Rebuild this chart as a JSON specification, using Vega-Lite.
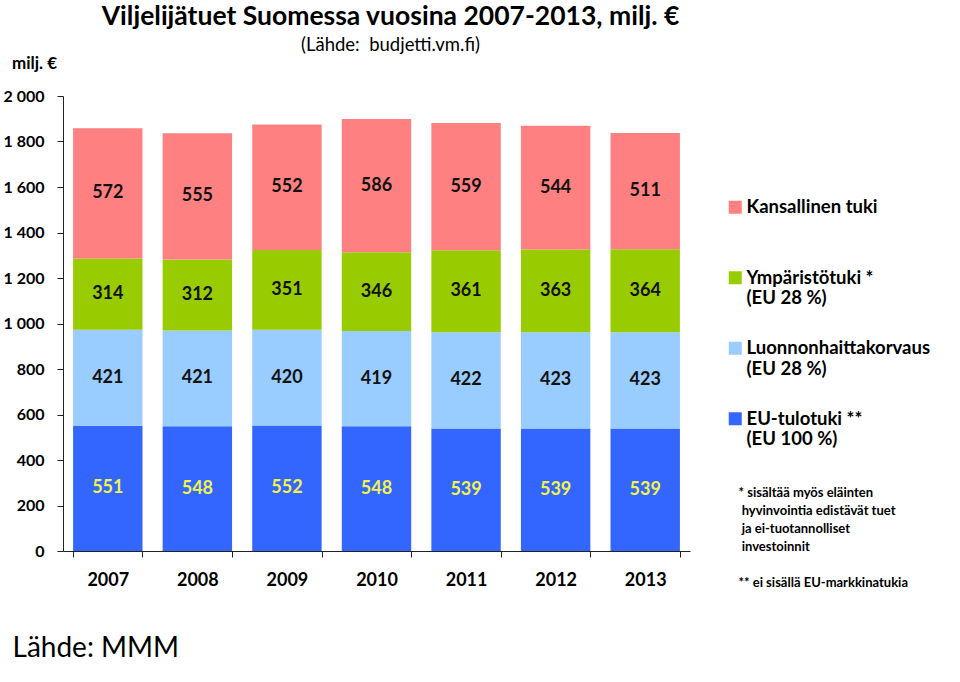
{
  "$schema": "https://vega.github.io/schema/vega-lite/v6.json",
  "width": 627,
  "height": 455,
  "autosize": {"type": "none"},
  "padding": {"left": 63, "top": 96, "right": 270, "bottom": 131},
  "background": "white",
  "config": {
    "font": "Lato",
    "view": {"stroke": null}
  },
  "title": {
    "text": "Viljelijätuet Suomessa vuosina 2007-2013, milj. €",
    "subtitle": "(Lähde:\u00a0 budjetti.vm.fi)",
    "font": "Lato",
    "fontSize": 26.5,
    "fontWeight": "bold",
    "color": "#000000",
    "subtitleFont": "Lato",
    "subtitleFontSize": 18.5,
    "subtitleFontWeight": "normal",
    "subtitleColor": "#000000",
    "subtitlePadding": 5,
    "anchor": "middle",
    "frame": "group",
    "dx": 14,
    "offset": 0
  },
  "data": {
    "values": [
      {"year": "2007", "series": "EU-tulotuki **", "order": 1, "value": 551},
      {"year": "2007", "series": "Luonnonhaittakorvaus", "order": 2, "value": 421},
      {"year": "2007", "series": "Ympäristötuki *", "order": 3, "value": 314},
      {"year": "2007", "series": "Kansallinen tuki", "order": 4, "value": 572},
      {"year": "2008", "series": "EU-tulotuki **", "order": 1, "value": 548},
      {"year": "2008", "series": "Luonnonhaittakorvaus", "order": 2, "value": 421},
      {"year": "2008", "series": "Ympäristötuki *", "order": 3, "value": 312},
      {"year": "2008", "series": "Kansallinen tuki", "order": 4, "value": 555},
      {"year": "2009", "series": "EU-tulotuki **", "order": 1, "value": 552},
      {"year": "2009", "series": "Luonnonhaittakorvaus", "order": 2, "value": 420},
      {"year": "2009", "series": "Ympäristötuki *", "order": 3, "value": 351},
      {"year": "2009", "series": "Kansallinen tuki", "order": 4, "value": 552},
      {"year": "2010", "series": "EU-tulotuki **", "order": 1, "value": 548},
      {"year": "2010", "series": "Luonnonhaittakorvaus", "order": 2, "value": 419},
      {"year": "2010", "series": "Ympäristötuki *", "order": 3, "value": 346},
      {"year": "2010", "series": "Kansallinen tuki", "order": 4, "value": 586},
      {"year": "2011", "series": "EU-tulotuki **", "order": 1, "value": 539},
      {"year": "2011", "series": "Luonnonhaittakorvaus", "order": 2, "value": 422},
      {"year": "2011", "series": "Ympäristötuki *", "order": 3, "value": 361},
      {"year": "2011", "series": "Kansallinen tuki", "order": 4, "value": 559},
      {"year": "2012", "series": "EU-tulotuki **", "order": 1, "value": 539},
      {"year": "2012", "series": "Luonnonhaittakorvaus", "order": 2, "value": 423},
      {"year": "2012", "series": "Ympäristötuki *", "order": 3, "value": 363},
      {"year": "2012", "series": "Kansallinen tuki", "order": 4, "value": 544},
      {"year": "2013", "series": "EU-tulotuki **", "order": 1, "value": 539},
      {"year": "2013", "series": "Luonnonhaittakorvaus", "order": 2, "value": 423},
      {"year": "2013", "series": "Ympäristötuki *", "order": 3, "value": 364},
      {"year": "2013", "series": "Kansallinen tuki", "order": 4, "value": 511}
    ]
  },
  "transform": [
    {"stack": "value", "groupby": ["year"], "sort": [{"field": "order", "order": "ascending"}], "as": ["y0", "y1"]},
    {"calculate": "(datum.y0 + datum.y1) / 2", "as": "mid"}
  ],
  "encoding": {
    "x": {
      "field": "year",
      "type": "ordinal",
      "scale": {"paddingInner": 0.225, "paddingOuter": 0.1125},
      "axis": {
        "title": "Lähde: MMM",
        "titleFont": "Lato",
        "titleFontSize": 28,
        "titleFontWeight": "normal",
        "titleColor": "#000000",
        "titleAnchor": "start",
        "titleAlign": "left",
        "titleBaseline": "middle",
        "titleX": -51,
        "titleY": 97,
        "labelAngle": 0,
        "labelFont": "Lato",
        "labelFontSize": 18,
        "labelFontWeight": "bold",
        "labelColor": "#000000",
        "labelPadding": 14,
        "tickBand": "extent",
        "tickSize": 6,
        "tickColor": "#222222",
        "domainColor": "#222222",
        "grid": false
      }
    }
  },
  "layer": [
    {
      "mark": {"type": "bar", "strokeWidth": 0},
      "encoding": {
        "y": {
          "field": "y1",
          "type": "quantitative",
          "scale": {"domain": [0, 2000], "nice": false},
          "axis": {
            "orient": "left",
            "values": [0, 200, 400, 600, 800, 1000, 1200, 1400, 1600, 1800, 2000],
            "labelExpr": "replace(format(datum.value, ','), ',', ' ')",
            "labelFont": "Lato",
            "labelFontSize": 16,
            "labelFontWeight": "bold",
            "labelColor": "#000000",
            "labelPadding": 13,
            "tickSize": 6,
            "tickColor": "#222222",
            "domainColor": "#222222",
            "grid": false,
            "title": "milj. €",
            "titleFont": "Lato",
            "titleFontSize": 17,
            "titleFontWeight": "bold",
            "titleColor": "#000000",
            "titleAngle": 0,
            "titleAlign": "center",
            "titleBaseline": "middle",
            "titleX": -29,
            "titleY": -33
          }
        },
        "y2": {"field": "y0"},
        "color": {
          "field": "series",
          "type": "nominal",
          "scale": {
            "domain": ["Kansallinen tuki", "Ympäristötuki *", "Luonnonhaittakorvaus", "EU-tulotuki **"],
            "range": ["#FF8080", "#99CC00", "#99CCFF", "#3366FF"]
          },
          "legend": {
            "title": null,
            "orient": "none",
            "legendX": 663,
            "legendY": 102,
            "padding": 0,
            "symbolType": "square",
            "symbolSize": 169,
            "symbolStrokeWidth": 0,
            "symbolOpacity": 1,
            "labelFont": "Lato",
            "labelFontSize": 18.5,
            "labelFontWeight": "bold",
            "labelColor": "#000000",
            "labelLimit": 300,
            "labelOffset": 2,
            "labelBaseline": "middle",
            "labelLineHeight": 24,
            "rowPadding": 30.5,
            "labelExpr": "datum.label == 'Kansallinen tuki' ? ['Kansallinen tuki', '\u200b'] : datum.label == 'EU-tulotuki **' ? ['EU-tulotuki **', '(EU 100 %)'] : [datum.label, '(EU 28 %)']"
          }
        }
      }
    },
    {
      "mark": {"type": "text", "font": "Lato", "fontSize": 18, "fontWeight": "bold", "baseline": "middle", "align": "center"},
      "encoding": {
        "y": {
          "field": "mid",
          "type": "quantitative",
          "axis": {
            "orient": "right",
            "domain": false,
            "ticks": false,
            "labels": false,
            "grid": false,
            "title": [
              "* sisältää myös eläinten",
              "\u200b\u00a0hyvinvointia edistävät tuet",
              "\u200b\u00a0ja ei-tuotannolliset",
              "\u200b\u00a0investoinnit",
              "\u200b",
              "** ei sisällä EU-markkinatukia"
            ],
            "titleFont": "Lato",
            "titleFontSize": 13,
            "titleFontWeight": "bold",
            "titleColor": "#000000",
            "titleAngle": 0,
            "titleAlign": "left",
            "titleBaseline": "top",
            "titleLineHeight": 18,
            "titleX": 48,
            "titleY": 390
          }
        },
        "text": {"field": "value", "type": "quantitative"},
        "color": {
          "condition": {"test": "datum.series == 'EU-tulotuki **'", "value": "#F2F24A"},
          "value": "#111111"
        }
      }
    }
  ],
  "resolve": {"axis": {"y": "independent"}}
}
